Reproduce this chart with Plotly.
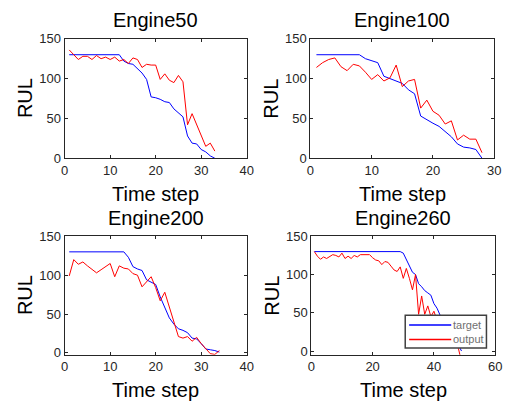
import plotly.graph_objects as go

# ---------------- data ----------------
titles = ["Engine50", "Engine100", "Engine200", "Engine260"]
series_names = ["target", "output"]
series_colors = ["#0000ff", "#ff0000"]

target50 = [130, 130, 130, 130, 130, 130, 130, 130, 130, 130, 130, 130, 122, 119, 118, 112, 107, 99,
            77, 76, 74, 71, 70, 62, 57, 52, 28, 19, 18, 11, 8, 3, 0]
output50 = [136, 130, 124, 128, 128, 124, 129, 125, 127, 124, 127, 122, 124, 119, 126, 124, 114, 118,
            117, 117, 99, 106, 98, 95, 104, 96, 42, 56, 42, 30, 15, 19, 9]

target100 = [130, 130, 130, 130, 130, 130, 130, 130, 125, 122, 120, 103, 100, 97, 94, 86, 81, 53,
             48, 44, 40, 33, 27, 18, 14, 13, 11, 0]
output100 = [114, 120, 124, 126, 115, 110, 118, 116, 108, 99, 105, 97, 101, 117, 90, 97, 99, 63,
             73, 59, 54, 43, 47, 23, 29, 24, 24, 7]

target200 = [130, 130, 130, 130, 130, 130, 130, 130, 130, 130, 130, 130, 130, 123, 111, 108, 106, 94,
             91, 88, 72, 59, 45, 37, 31, 29, 26, 19, 18, 12, 5, 4, 3, 1]
output200 = [99, 120, 114, 117, 112, 107, 103, 107, 111, 115, 98, 112, 109, 108, 102, 100, 85, 92,
             98, 84, 67, 78, 59, 43, 21, 19, 21, 15, 20, 12, 6, -1, -2, 3]

target260 = [130] * 29 + [128, 120, 110, 103, 100, 88, 84, 79, 76, 73, 62, 56, 47, 42, 36, 30, 22, 15, 8, 0]
output260 = [130, 124, 120, 123, 121, 124, 126, 125, 123, 128, 121, 124, 121, 125, 123, 126, 126, 126,
             126, 122, 119, 118, 113, 117, 116, 111, 106, 104, 110, 95, 108, 95, 80, 100, 48, 72, 48,
             59, 45, 52, 40, 38, 32, 26, 20, 14, 8, 3, -14]

targets = [target50, target100, target200, target260]
outputs = [output50, output100, output200, output260]

x_ranges = [[0, 40], [0, 30], [0, 40], [0, 60]]
x_ticks = [[0, 10, 20, 30, 40], [0, 10, 20, 30], [0, 10, 20, 30, 40], [0, 20, 40, 60]]
y_ranges = [[0, 150], [0, 150], [-2.5, 150], [-5, 150]]
y_ticks = [0, 50, 100, 150]

# ---------------- layout helpers (pixel -> paper) ----------------
W, H = 514, 411
def px(x):
    return x / W
def py(y):
    return 1 - y / H

# axes boxes in pixels: (left, right, top, bottom)
boxes = [(62, 248, 33, 157), (313, 501, 33, 157), (62, 248, 238, 361), (314, 502, 238, 361)]

FONT = "Liberation Sans, Arial"
fig = go.Figure()
axis_color = "#262626"
for i in range(4):
    n = len(targets[i])
    steps = list(range(1, n + 1))
    xa = "x" if i == 0 else f"x{i+1}"
    ya = "y" if i == 0 else f"y{i+1}"
    fig.add_trace(go.Scatter(x=steps, y=targets[i], mode="lines", name=series_names[0],
                             line=dict(color=series_colors[0], width=1), xaxis=xa, yaxis=ya,
                             showlegend=False))
    fig.add_trace(go.Scatter(x=steps, y=outputs[i], mode="lines", name=series_names[1],
                             line=dict(color=series_colors[1], width=1), xaxis=xa, yaxis=ya,
                             showlegend=False))
    l, r, t, b = boxes[i]
    xkey = "xaxis" if i == 0 else f"xaxis{i+1}"
    ykey = "yaxis" if i == 0 else f"yaxis{i+1}"
    fig.layout[xkey] = dict(domain=[px(l), px(r)], range=x_ranges[i], tickvals=x_ticks[i],
                            anchor=ya, showline=True, linecolor=axis_color, linewidth=1,
                            mirror="ticks", ticks="inside", ticklen=3, tickcolor=axis_color,
                            showgrid=False, zeroline=False,
                            tickfont=dict(family=FONT, size=13, color=axis_color))
    fig.layout[ykey] = dict(domain=[py(b), py(t)], range=y_ranges[i], tickvals=y_ticks,
                            anchor=xa, showline=True, linecolor=axis_color, linewidth=1,
                            mirror="ticks", ticks="inside", ticklen=3, tickcolor=axis_color,
                            showgrid=False, zeroline=False,
                            tickfont=dict(family=FONT, size=13, color=axis_color))
    cx = (l + r) / 2
    fig.add_annotation(x=px(cx), y=py(t - 19), xref="paper", yref="paper", text=titles[i],
                       showarrow=False, xanchor="center", yanchor="middle",
                       font=dict(family=FONT, size=20, color="black"))
    fig.add_annotation(x=px(cx), y=py(b + 37), xref="paper", yref="paper", text="Time step",
                       showarrow=False, xanchor="center", yanchor="middle",
                       font=dict(family=FONT, size=20, color="black"))
    fig.add_annotation(x=px(l - 41), y=py((t + b) / 2), xref="paper", yref="paper", text="RUL",
                       showarrow=False, xanchor="center", yanchor="middle", textangle=-90,
                       font=dict(family=FONT, size=20, color="black"))

# ---------------- legend box (bottom-right panel) ----------------
lg_l, lg_r, lg_t, lg_b = 410, 493, 320, 354
fig.add_shape(type="rect", xref="paper", yref="paper",
              x0=px(lg_l), x1=px(lg_r), y0=py(lg_b), y1=py(lg_t),
              line=dict(color="#404040", width=1.5), fillcolor="white", layer="above")
for k, (name, col) in enumerate(zip(series_names, series_colors)):
    yy = 330 + 15 * k
    fig.add_shape(type="line", xref="paper", yref="paper",
                  x0=px(414), x1=px(457), y0=py(yy), y1=py(yy),
                  line=dict(color=col, width=1.5), layer="above")
    fig.add_annotation(x=px(457), y=py(yy), xref="paper", yref="paper", text=name,
                       showarrow=False, xanchor="left", yanchor="middle",
                       font=dict(family=FONT, size=11, color="#707070"))

fig.update_layout(
    width=W, height=H,
    margin=dict(l=0, r=0, t=0, b=0),
    paper_bgcolor="white", plot_bgcolor="white",
    showlegend=False,
)

fig.write_html("out.html")
